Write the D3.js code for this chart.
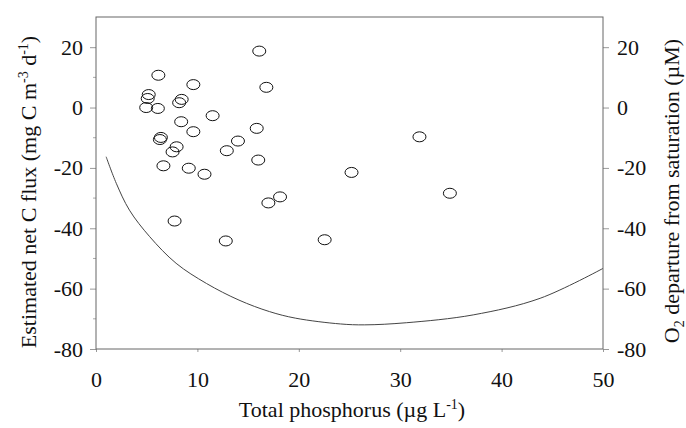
<!DOCTYPE html>
<html>
<head>
<meta charset="utf-8">
<script src="https://cdn.jsdelivr.net/npm/d3@7"></script>
</head>
<body style="margin:0">
<div id="container"></div>
<script>
/* DATA */
const phosphorus = [16.1, 6.15, 9.6, 16.8, 5.2, 5.1, 8.45, 8.2, 4.95, 6.1, 11.5, 8.4, 15.85, 9.6, 6.4, 6.3,
  14.0, 7.95, 7.55, 12.9, 16.0, 6.65, 9.15, 10.7, 25.2, 31.9, 34.9, 18.15, 17.0, 7.75, 12.8, 22.55]
const netFlux = [18.7, 10.7, 7.6, 6.7, 4.3, 3.0, 2.7, 1.6, 0.0, -0.3, -2.7, -4.7, -6.9, -8.0, -9.9, -10.6,
  -11.1, -13.0, -14.7, -14.3, -17.4, -19.3, -20.1, -22.1, -21.5, -9.7, -28.4, -29.6, -31.6, -37.6, -44.2, -43.8]

// fitted O2 curve
const curveP = [1.0, 2.0, 3.3, 5.3, 7.9, 10.9, 14.1, 17.1, 19.7, 24.1, 26.5, 30.6, 37.2, 43.8, 50]
const curveO2 = [-16.3, -25.1, -34.0, -42.8, -51.6, -58.3, -63.8, -67.6, -69.8, -71.7, -72.0, -71.3, -68.7, -63.2, -53.3]

const xTicks = [0, 10, 20, 30, 40, 50]
const yTicks = [20, 0, -20, -40, -60, -80]

/* CONSTANTS */
const width = 686, height = 428
const margin = { top: 17, bottom: 79, left: 96, right: 83 }
const fontSize = 22
const serifName = "Times New Roman"

/* SCALES */
const xScale = d3.scaleLinear()
  .domain([0, 50])
  .range([margin.left, width - margin.right])

const yScale = d3.scaleLinear()
  .domain([-80, 30])
  .range([height - margin.bottom, margin.top])

/* SVG */
const svg = d3.select("#container")
  .append("svg")
  .attr("width", width)
  .attr("height", height)

const plain = d => String(d)   // ascii hyphen, like the original

const axisStyle = g => {
  g.attr("font-family", null).attr("font-size", null)
  g.select(".domain").remove()
  g.selectAll(".tick line").attr("stroke", "#999")
  g.selectAll(".tick text")
    .attr("font-size", fontSize)
    .attr("fill", "#111")
}

// bottom axis
svg.append("g")
  .attr("transform", `translate(0,${height - margin.bottom})`)
  .call(d3.axisBottom(xScale).tickValues(xTicks).tickFormat(plain).tickSize(3).tickPadding(19))
  .call(axisStyle)

// left axis
svg.append("g")
  .attr("transform", `translate(${margin.left},0)`)
  .call(d3.axisLeft(yScale).tickValues(yTicks).tickFormat(plain).tickSize(6).tickPadding(7))
  .call(axisStyle)

// right axis, same scale
svg.append("g")
  .attr("transform", `translate(${width - margin.right},0)`)
  .call(d3.axisRight(yScale).tickValues(yTicks).tickFormat(plain).tickSize(6).tickPadding(8))
  .call(axisStyle)

// minor ticks on the left
svg.append("g")
  .selectAll("line")
  .data([10, -10, -30, -50, -70])
  .join("line")
  .attr("x1", margin.left - 3)
  .attr("x2", margin.left)
  .attr("y1", d => yScale(d))
  .attr("y2", d => yScale(d))
  .attr("stroke", "#aaa")

// frame
svg.append("rect")
  .attr("x", margin.left)
  .attr("y", margin.top)
  .attr("width", width - margin.left - margin.right)
  .attr("height", height - margin.top - margin.bottom)
  .attr("fill", "none")
  .attr("stroke", "#666")
  .attr("stroke-width", 1)

// curve
const line = d3.line()
  .x(d => xScale(d[0]))
  .y(d => yScale(d[1]))
  .curve(d3.curveCatmullRom)

svg.append("path")
  .datum(curveP.map((p, i) => [p, curveO2[i]]))
  .attr("d", line)
  .attr("fill", "none")
  .attr("stroke", "#444")
  .attr("stroke-width", 1)

// points
svg.selectAll("ellipse.site")
  .data(phosphorus.map((p, i) => ({ p: p, c: netFlux[i] })))
  .join("ellipse")
  .attr("class", "site")
  .attr("cx", d => xScale(d.p))
  .attr("cy", d => yScale(d.c))
  .attr("rx", 6.5)
  .attr("ry", 5)
  .attr("fill", "none")
  .attr("stroke", "#111")
  .attr("stroke-width", 1)

/* AXIS TITLES */
const title = (transform, parts) => {
  const t = svg.append("text")
    .attr("transform", transform)
    .attr("text-anchor", "middle")
    .attr("fill", "#111")
    .attr("font-size", fontSize)
  parts.forEach(([txt, dy, small]) => {
    const s = t.append("tspan").text(txt).attr("dy", dy)
    if (small) s.attr("font-size", 14)
  })
}

title("translate(352,417)", [["Total phosphorus (\u00b5g L", 0], ["-1", -8, true], [")", 8]])
title("translate(36,192) rotate(-90)", [["Estimated net C flux (mg C m", 0], ["-3", -8, true], [" d", 8],
  ["-1", -8, true], [")", 8]])
title("translate(679,191) rotate(-90)", [["O", 0], ["2", 5, true], [" departure from saturation (\u00b5M)", -5]])

// serif face on every label
svg.selectAll("text, tspan").style("font-family", () => `"${serifName}"`)
</script>
</body>
</html>
